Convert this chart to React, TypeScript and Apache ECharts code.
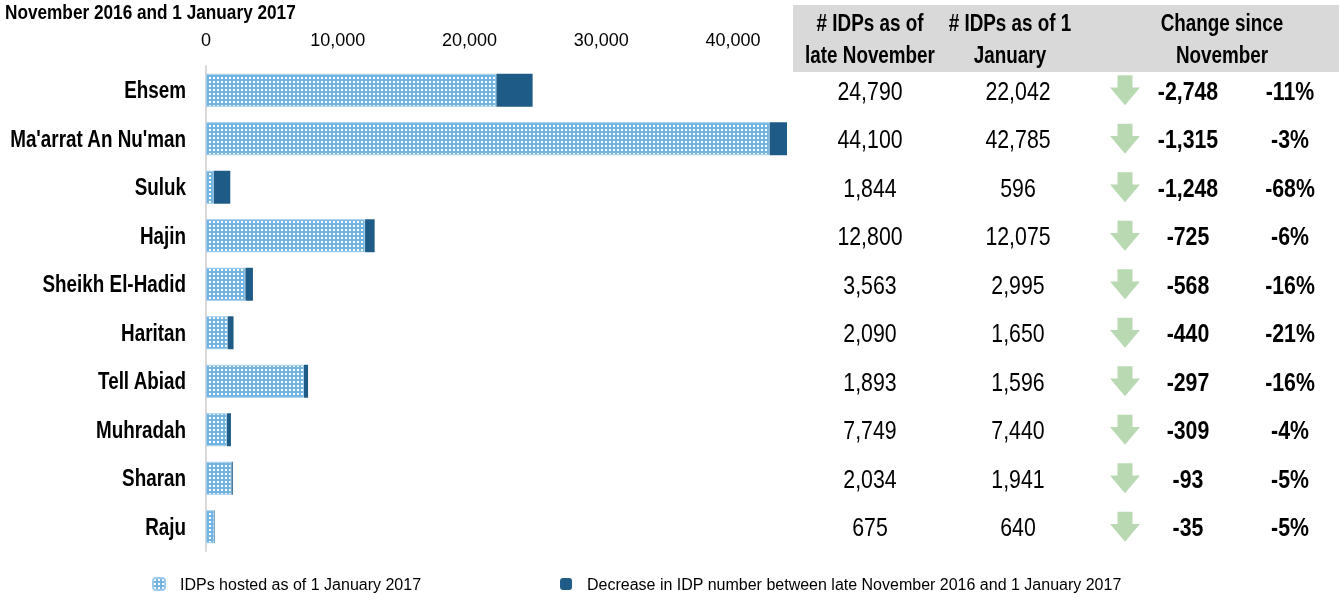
import React, { useEffect, useRef } from 'react';
import * as echarts from 'echarts';

// ---------- data ----------
const categories = ['Ehsem', "Ma'arrat An Nu'man", 'Suluk', 'Hajin', 'Sheikh El-Hadid', 'Haritan', 'Tell Abiad', 'Muhradah', 'Sharan', 'Raju'];
// bars as drawn in the picture
const hostedJanBar = [22042, 42785, 596, 12075, 2995, 1650, 7440, 1596, 1941, 640];
const decreaseBar = [2748, 1315, 1248, 725, 568, 440, 309, 297, 93, 35];
// table
const idpsLateNov = [24790, 44100, 1844, 12800, 3563, 2090, 1893, 7749, 2034, 675];
const idpsJan = [22042, 42785, 596, 12075, 2995, 1650, 1596, 7440, 1941, 640];
const changeAbs = [-2748, -1315, -1248, -725, -568, -440, -297, -309, -93, -35];
const changePct = [-11, -3, -68, -6, -16, -21, -16, -4, -5, -5];

const xMin = 0;
const xMax = 44100;
const xInterval = 10000;

const seriesNames = ['IDPs hosted as of 1 January 2017', 'Decrease in IDP number between late November 2016 and 1 January 2017'];
const headerTexts = ['# IDPs as of\nlate November', '# IDPs as of 1\nJanuary', 'Change since\nNovember'];
const titleText = 'November 2016 and 1 January 2017';

// ---------- layout / style ----------
const FONT = "'Liberation Sans', Arial, sans-serif";
const NARROW = 0.82;
const COL_NOV = 870;
const COL_JAN = 1018;
const COL_ARROW = 1125;
const COL_CHG = 1188;
const COL_PCT = 1290;
const HEADER_X = [870, 1010, 1222];
const ARROW_PATH = 'path://M25,0 L75,0 L75,41 L100,41 L50,100 L0,41 L25,41 Z';

const fmt = (n: number) => n.toLocaleString('en-US');

function makePattern() {
  const c = document.createElement('canvas');
  c.width = 4;
  c.height = 4;
  const ctx = c.getContext('2d')!;
  ctx.fillStyle = '#74b4e0';
  ctx.fillRect(0, 0, 4, 4);
  ctx.fillStyle = '#ffffff';
  ctx.fillRect(1, 1, 2, 2);
  return c;
}

const narrowText = (x: number, y: number, text: string, size: number, bold: boolean, align: string) => ({
  type: 'text',
  x,
  y,
  scaleX: NARROW,
  style: {
    text,
    fontFamily: FONT,
    fontSize: size,
    fontWeight: bold ? 'bold' : 'normal',
    fill: '#000',
    textAlign: align,
    textVerticalAlign: 'middle',
    align,
    verticalAlign: 'middle',
  },
});

export default function App() {
  const ref = useRef<HTMLDivElement>(null);
  useEffect(() => {
    if (!ref.current) return;
    const chart = echarts.init(ref.current, undefined, { renderer: 'svg' });
    const pattern = { image: makePattern(), repeat: 'repeat' } as any;

    const tableSeries = (name: string, col: number, vals: number[], bold: boolean, f: (v: number) => string) => ({
      name,
      type: 'custom',
      xAxisIndex: 1,
      yAxisIndex: 1,
      silent: true,
      data: vals.map((v, i) => [col, i, v]),
      renderItem: (_params: any, api: any) => {
        const p = api.coord([api.value(0), api.value(1)]);
        return narrowText(p[0], p[1], f(api.value(2)), 26, bold, 'center');
      },
    });

    chart.setOption({
      animation: false,
      textStyle: { fontFamily: FONT },
      grid: [
        { left: 206, right: 552, top: 66, height: 485, outerBoundsMode: 'none', containLabel: false },
        { left: 793, right: 0, top: 66, height: 485, outerBoundsMode: 'none', containLabel: false },
      ],
      xAxis: [
        {
          gridIndex: 0,
          type: 'value',
          position: 'top',
          min: xMin,
          max: xMax,
          interval: xInterval,
          axisLine: { show: false },
          axisTick: { show: false },
          splitLine: { show: false },
          axisLabel: {
            fontFamily: FONT,
            fontSize: 18,
            color: '#000',
            margin: 17,
            showMaxLabel: false,
            formatter: (v: number) => fmt(v),
          },
        },
        { gridIndex: 1, type: 'value', min: 793, max: 1339, show: false },
      ],
      yAxis: [
        {
          gridIndex: 0,
          type: 'category',
          data: categories,
          inverse: true,
          axisLine: { show: true, lineStyle: { color: '#d9d9d9', width: 2 } },
          axisTick: { show: false },
          axisLabel: { show: false },
        },
        { gridIndex: 1, type: 'category', data: categories, inverse: true, show: false },
      ],
      legend: {
        data: seriesNames,
        left: 147,
        top: 571,
        itemWidth: 12,
        itemHeight: 12,
        itemGap: 139,
        width: 1180,
        textStyle: { fontFamily: FONT, fontSize: 16, color: '#000', padding: [0, 0, 0, 10] },
      },
      series: [
        {
          name: seriesNames[0],
          type: 'bar',
          stack: 'total',
          barWidth: '68%',
          data: hostedJanBar,
          itemStyle: { color: pattern, borderColor: '#9dcbeb', borderWidth: 1 },
        },
        {
          name: seriesNames[1],
          type: 'bar',
          stack: 'total',
          data: decreaseBar,
          itemStyle: { color: '#1f5b87' },
        },
        {
          name: 'categoryLabels',
          type: 'custom',
          xAxisIndex: 0,
          yAxisIndex: 0,
          silent: true,
          data: categories.map((_c, i) => [0, i]),
          renderItem: (params: any, api: any) => {
            const p = api.coord([api.value(0), api.value(1)]);
            return narrowText(p[0] - 20, p[1], categories[params.dataIndex], 23, true, 'right');
          },
        },
        tableSeries('lateNov', COL_NOV, idpsLateNov, false, fmt),
        tableSeries('jan', COL_JAN, idpsJan, false, fmt),
        {
          name: 'arrow',
          type: 'scatter',
          xAxisIndex: 1,
          yAxisIndex: 1,
          silent: true,
          symbol: ARROW_PATH,
          symbolSize: [30, 30],
          itemStyle: { color: '#a6cf9f' },
          data: changeAbs.map((v, i) => [COL_ARROW, i, v]),
        },
        tableSeries('chg', COL_CHG, changeAbs, true, fmt),
        tableSeries('pct', COL_PCT, changePct, true, (v) => v + '%'),
      ],
      graphic: [
        { type: 'rect', left: 793, top: 5, shape: { width: 546, height: 67 }, style: { fill: '#d9d9d9' }, silent: true },
        ...headerTexts.map((t, i) => {
          const el: any = narrowText(HEADER_X[i], 39, t, 23, true, 'center');
          el.style.lineHeight = 32;
          return el;
        }),
        narrowText(5, 12, titleText, 21, true, 'left'),
      ],
    });
    return () => chart.dispose();
  }, []);
  return <div ref={ref} style={{ position: 'fixed', left: 0, top: 0, width: 1339, height: 604 }} />;
}
